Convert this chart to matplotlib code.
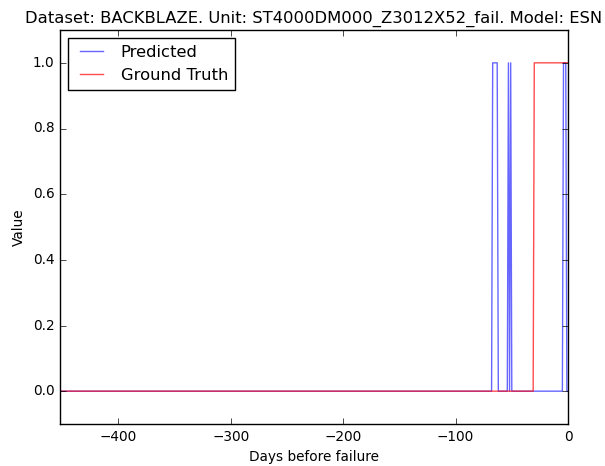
import numpy as np
import matplotlib
matplotlib.use("Agg")
import matplotlib.pyplot as plt

plt.style.use('classic')

# Data
days_start = -452
days_end = 0
pred_one_days = [-67, -66, -65, -64, -63, -53, -51, -4, -3, -2]
truth_one_days = list(range(-30, 1))

days = np.arange(days_start, days_end + 1)
predicted = np.isin(days, pred_one_days).astype(float)
truth = np.isin(days, truth_one_days).astype(float)

title = "Dataset: BACKBLAZE. Unit: ST4000DM000_Z3012X52_fail. Model: ESN"

fig = plt.figure(figsize=(6.05, 4.66), dpi=100)
fig.patch.set_facecolor('white')
ax = fig.add_axes([60/605, 42/466, 508/605, 394/466])
ax.plot(days, predicted, color='b', alpha=0.6, lw=1.0, label='Predicted')
ax.plot(days, truth, color='r', alpha=0.7, lw=1.0, label='Ground Truth')
ax.set_xlim(days_start, days_end)
ax.set_ylim(-0.1, 1.1)
ax.set_xticks([-400, -300, -200, -100, 0])
ax.set_yticks([0.0, 0.2, 0.4, 0.6, 0.8, 1.0])
ax.tick_params(labelsize=9.8)
ax.set_xlabel("Days before failure", fontsize=9.8)
ax.set_ylabel("Value", fontsize=9.8)
ax.set_title(title, fontsize=11.8)
ax.legend(loc='upper left', fontsize=11.8)
fig.savefig("out.png", dpi=100, facecolor='white')
